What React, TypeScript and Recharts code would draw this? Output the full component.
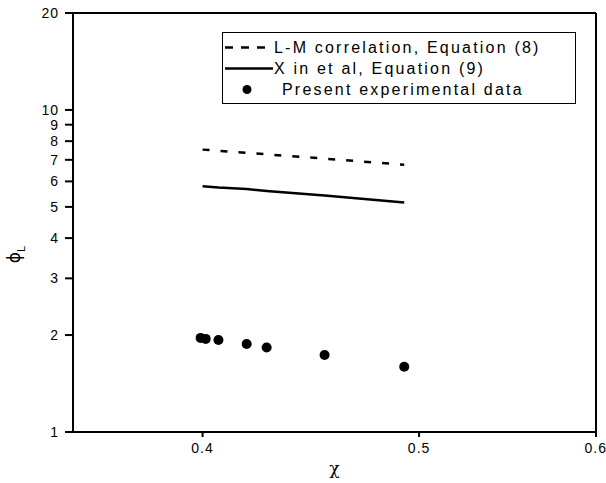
import React from "react";
import {
  ComposedChart,
  Line,
  Scatter,
  XAxis,
  YAxis,
  ReferenceLine,
} from "recharts";

// Model curves (evaluated at these chi values)
const curveX = [0.4, 0.4066, 0.4186, 0.4273, 0.4536, 0.4924];
const lmValues = [7.53, 7.47, 7.36, 7.28, 7.06, 6.76];
const xinValues = [5.8, 5.74, 5.68, 5.6, 5.42, 5.16];

// Experimental points
const expX = [0.3992, 0.4013, 0.4066, 0.4186, 0.4273, 0.4536, 0.4924];
const expValues = [1.96, 1.946, 1.93, 1.875, 1.83, 1.735, 1.595];

const xTicks = [0.4, 0.5, 0.6];
const yTicks = [1, 2, 3, 4, 5, 6, 7, 8, 9, 10, 20];

const seriesNames = {
  lm: "L-M correlation, Equation (8)",
  xin: "X in et al, Equation (9)",
  exp: "Present experimental data",
};

const curveData = curveX.map((x, i) => ({ x, lm: lmValues[i], xin: xinValues[i] }));
const expData = expX.map((x, i) => ({ x, y: expValues[i] }));

const FONT = "'Liberation Sans', Arial, sans-serif";

const legendItems = [
  { name: seriesNames.lm, kind: "dashed" },
  { name: seriesNames.xin, kind: "solid" },
  { name: seriesNames.exp, kind: "dot" },
];

const LegendBox = () => (
  <div
    style={{
      position: "absolute",
      left: 222,
      top: 32,
      width: 354,
      height: 72,
      border: "1.5px solid #000",
      background: "#fff",
      fontFamily: FONT,
      fontSize: 16,
      letterSpacing: 2.2,
      color: "#000",
      boxSizing: "border-box",
      paddingTop: 4,
    }}
  >
    {legendItems.map((it, i) => {
      const isDot = it.kind === "dot";
      return (
        <div
          key={i}
          style={{ display: "flex", alignItems: "center", height: 21, whiteSpace: "nowrap" }}
        >
          <svg width={isDot ? 59 : 51} height={21} style={{ flexShrink: 0 }}>
            {isDot ? (
              <circle cx={24} cy={10.5} r={4.5} fill="#000" />
            ) : (
              <line
                x1={2}
                x2={50}
                y1={10.5}
                y2={10.5}
                stroke="#000"
                strokeWidth={2.5}
                strokeDasharray={it.kind === "dashed" ? "8 8" : undefined}
              />
            )}
          </svg>
          <span>{it.name}</span>
        </div>
      );
    })}
  </div>
);

const YLabel = (props: any) => {
  const vb = props.viewBox || {};
  const cx = 20;
  const cy = vb.y + vb.height / 2 + 32;
  return (
    <text
      x={cx}
      y={cy}
      transform={`rotate(-90 ${cx} ${cy})`}
      textAnchor="middle"
      fontFamily="'DejaVu Sans', sans-serif"
      fontSize={17}
      fill="#000"
    >
      <tspan>ϕ</tspan>
      <tspan fontSize={11} fontFamily={FONT} dy={5}>L</tspan>
    </text>
  );
};

export default function App() {
  return (
    <div style={{ position: "absolute", left: 0, top: 0, width: 606, height: 483, background: "#fff" }}>
      <ComposedChart
        width={606}
        height={483}
        data={curveData}
        margin={{ top: 13, right: 10, bottom: 0, left: 0 }}
      >
        <XAxis
          dataKey="x"
          type="number"
          scale="log"
          domain={[0.35, 0.6]}
          allowDataOverflow
          ticks={xTicks}
          tickFormatter={(v: number) => String(v)}
          height={51}
          stroke="#000"
          strokeWidth={2}
          tickSize={5}
          tickMargin={6}
          tick={{ fill: "#000", fontFamily: FONT, fontSize: 14, letterSpacing: 1 }}
          label={{
            value: "χ",
            position: "insideBottom",
            offset: 9,
            fill: "#000",
            fontFamily: "'DejaVu Serif', serif",
            fontSize: 17,
          }}
        />
        <YAxis
          type="number"
          scale="log"
          domain={[1, 20]}
          allowDataOverflow
          ticks={yTicks}
          interval={0}
          width={73}
          stroke="#000"
          strokeWidth={2}
          tickSize={8}
          tickMargin={6}
          tick={{ fill: "#000", fontFamily: FONT, fontSize: 14, letterSpacing: 1 }}
          label={<YLabel />}
        />
        <ReferenceLine y={20} stroke="#000" strokeWidth={2} />
        <ReferenceLine x={0.6} stroke="#000" strokeWidth={2} />
        <Line
          name={seriesNames.lm}
          dataKey="lm"
          stroke="#000"
          strokeWidth={2.5}
          strokeDasharray="7 11"
          dot={false}
          isAnimationActive={false}
        />
        <Line
          name={seriesNames.xin}
          dataKey="xin"
          stroke="#000"
          strokeWidth={2.5}
          dot={false}
          isAnimationActive={false}
        />
        <Scatter
          name={seriesNames.exp}
          data={expData}
          dataKey="y"
          fill="#000"
          shape={(p: any) => <circle cx={p.cx} cy={p.cy} r={5} fill="#000" />}
          isAnimationActive={false}
        />
      </ComposedChart>
      <LegendBox />
    </div>
  );
}
